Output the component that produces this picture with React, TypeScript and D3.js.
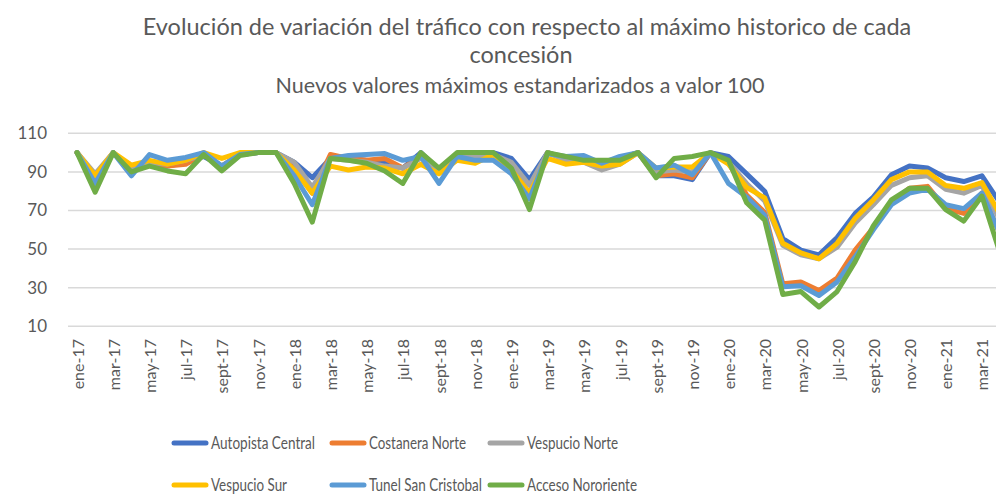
import React from "react";
import * as d3 from "d3";

const months = ["ene", "feb", "mar", "abr", "may", "jun", "jul", "ago", "sept", "oct", "nov", "dic"];
const categories: string[] = [];
for (let y = 17; y <= 21; y++) for (let m = 0; m < 12; m++) if (y < 21 || m < 4) categories.push(`${months[m]}-${y}`);

const seriesNames = ["Autopista Central", "Costanera Norte", "Vespucio Norte", "Vespucio Sur", "Tunel San Cristobal", "Acceso Nororiente"];
const seriesColors = ["#4472C4", "#ED7D31", "#A5A5A5", "#FFC000", "#5B9BD5", "#70AD47"];

const autopistaCentral = [100, 86, 100, 91, 95, 93, 95, 98, 93, 99, 100, 100, 95, 87, 97, 97, 96, 95, 92, 100, 91, 99, 99, 100, 97, 86, 100, 97, 96, 95, 97, 100, 88, 88, 86, 100, 98, 89, 80, 55.5, 49.5, 47, 56, 68.5, 77, 88.5, 93, 92, 87, 85, 88, 74];
const costaneraNorte = [100, 87, 100, 91, 95, 93, 94, 99, 93, 99, 100, 100, 92, 79, 99, 97, 96, 97, 92, 98, 91, 99, 98, 99, 94, 78, 100, 97, 96, 94, 97, 100, 88, 89, 87, 100, 95, 78, 69, 32, 33, 28.5, 35, 49.5, 61, 74, 81.5, 82.5, 71, 68.5, 79, 58];
const vespucioNorte = [100, 89, 100, 91, 95, 94, 96, 99, 93, 99, 100, 100, 95, 82, 97, 96, 95, 93, 92, 97, 91, 99, 98, 99, 95, 83, 100, 96, 95, 91, 94, 100, 90, 91, 90, 100, 95, 84, 75, 52, 47, 45, 51, 63.5, 73, 83, 87, 88, 81, 79, 83, 65];
const vespucioSur = [100, 88, 100, 93.5, 96, 94, 96, 100, 97, 100, 100, 100, 91, 79, 93, 91, 92.5, 92, 89, 94, 89, 96, 94.5, 99, 91, 79, 97, 94, 95, 93, 94, 100, 92, 92.5, 92.5, 100, 94, 82, 76.5, 53, 48, 45, 53, 66, 75.5, 86, 90, 90, 83, 81.5, 84.5, 68];
const tunelSanCristobal = [100, 84, 100, 88, 99, 96, 97.5, 100, 93, 99, 100, 100, 88, 73, 97, 98.5, 99, 99.5, 96, 98, 84, 98, 96, 96, 89, 76, 99.5, 98, 98.5, 94.5, 98, 100, 92, 93.5, 88.5, 100, 84, 77, 67.5, 30.5, 31, 26, 33, 46, 60, 73, 79, 81, 73, 71, 79, 58];
const accesoNororiente = [100, 79.5, 100, 90, 93, 90.5, 89, 99, 90.5, 98.5, 100, 100, 84, 64, 97, 96, 94.5, 90.5, 84, 100, 92, 100, 100, 100, 92, 70.5, 100, 98, 96, 96, 96, 100, 87, 97, 98, 100, 96, 74, 65, 26.5, 28, 20, 28, 43.5, 62, 75.5, 81.5, 81.5, 70.5, 64.5, 77.5, 48];

const seriesValues = [autopistaCentral, costaneraNorte, vespucioNorte, vespucioSur, tunelSanCristobal, accesoNororiente];
const yTicks = [10, 30, 50, 70, 90, 110];

const W = 996, H = 495;
const FONT = "Lato, 'Open Sans', sans-serif";
const TXT = "#595959";
// rendered widths of legend labels (layout only)
const legendTextWidths = [104, 97, 91, 76, 113, 110];

export default function App() {
  const x = d3.scalePoint<number>().domain(categories.map((_, i) => i)).range([68, 1009]).padding(0.5);
  const y = d3.scaleLinear().domain([10, 110]).range([326.3, 133.3]);
  const line = d3.line<number>().x((_, i) => x(i)!).y((d) => y(d));

  const legendRows = [
    { y: 443, items: [0, 1, 2] },
    { y: 485, items: [3, 4, 5] },
  ];
  const legendX = [172, 330, 488];

  return (
    <svg width={W} height={H} style={{ position: "absolute", left: 0, top: 0, background: "#fff" }} fontFamily={FONT}>
      <text x={527} y={35} textAnchor="middle" fontSize={23.5} fill={TXT}>Evolución de variación del tráfico con respecto al máximo historico de cada</text>
      <text x={521} y={63} textAnchor="middle" fontSize={23.5} fill={TXT}>concesión</text>
      <text x={520} y={93} textAnchor="middle" fontSize={21.5} fill={TXT}>Nuevos valores máximos estandarizados a valor 100</text>

      {yTicks.map((t) => (
        <g key={t}>
          <line x1={68} x2={1009} y1={y(t)} y2={y(t)} stroke="#D9D9D9" strokeWidth={1.5} />
          <text x={47} y={y(t)} dy="0.35em" textAnchor="end" fontSize={17} fill={TXT}>{t}</text>
        </g>
      ))}

      {categories.map((c, i) =>
        i % 2 === 0 ? (
          <text key={c} transform={`translate(${x(i)! + 1},339) rotate(-90)`} textAnchor="end" dy="0.35em" fontSize={16} fill={TXT}>{c}</text>
        ) : null
      )}

      {seriesValues.map((vals, si) => (
        <path key={si} d={line(vals)!} fill="none" stroke={seriesColors[si]} strokeWidth={5} strokeLinejoin="round" strokeLinecap="round" />
      ))}

      {legendRows.map((row) =>
        row.items.map((si, k) => (
          <g key={si}>
            <line x1={legendX[k] + 2} x2={legendX[k] + 34} y1={row.y} y2={row.y} stroke={seriesColors[si]} strokeWidth={5} strokeLinecap="round" />
            <text x={legendX[k] + 39} y={row.y} dy="0.35em" fontSize={17} fill={TXT}
              textLength={legendTextWidths[si]} lengthAdjust="spacingAndGlyphs">{seriesNames[si]}</text>
          </g>
        ))
      )}
    </svg>
  );
}
